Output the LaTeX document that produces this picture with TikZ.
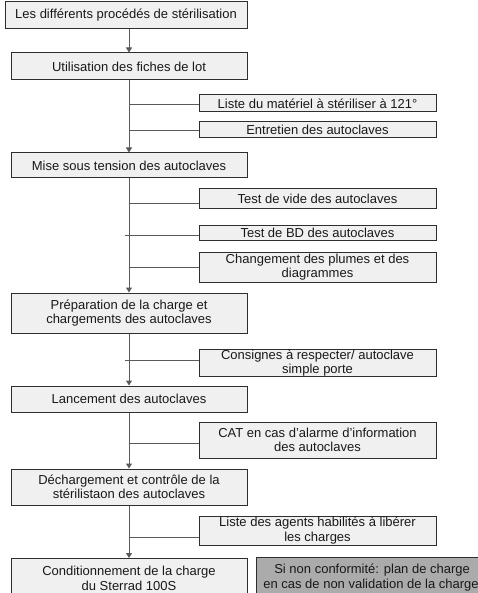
\documentclass[tikz,border=0pt]{standalone}
\usepackage{fontspec}
\setmainfont{Liberation Sans}
\usetikzlibrary{arrows.meta}
\definecolor{boxfill}{HTML}{F0F0F0}
\definecolor{notefill}{HTML}{ABABAB}
\definecolor{edge}{HTML}{2E2E2E}
\definecolor{wire}{HTML}{5A5A5A}
\begin{document}
\begin{tikzpicture}[x=1pt,y=-1pt,
  font=\fontsize{13}{14.5}\selectfont,
  stepbox/.style={draw=edge,fill=boxfill,line width=1pt,inner sep=0pt,
    minimum width=236pt,align=center,text=black!90},
  sidebox/.style={draw=edge,fill=boxfill,line width=1pt,inner sep=0pt,
    minimum width=237pt,align=center,text=black!90},
  notebox/.style={draw=edge,fill=notefill,line width=1pt,inner xsep=2pt,inner ysep=0pt,
    minimum width=229pt,align=left,text=black!90},
  flow/.style={draw=wire,line width=1pt,-{Triangle[width=6pt,length=5pt]}},
  branch/.style={draw=wire,line width=1pt}]
\useasboundingbox (0,0) rectangle (478,593);
\clip (0,0) rectangle (478,593);
\fill[white] (0,0) rectangle (478,593);

% main steps
\node[stepbox,minimum width=242pt,minimum height=27pt] (top) at (126,15.5)
  {Les différents procédés de stérilisation};
\node[stepbox,minimum height=27pt] (util) at (129,66.5) {Utilisation des fiches de lot};
\node[stepbox,minimum height=25pt] (mise) at (129,165.5) {Mise sous tension des autoclaves};
\node[stepbox,minimum height=40pt] (prep) at (129,313)
  {Préparation de la charge et\\chargements des autoclaves};
\node[stepbox,minimum height=26pt] (lanc) at (129,399) {Lancement des autoclaves};
\node[stepbox,minimum height=36pt] (dech) at (129,487)
  {Déchargement et contrôle de la\\stérilistaon des autoclaves};
\node[stepbox,minimum height=40pt] (cond) at (129,578.5)
  {Conditionnement de la charge\\du Sterrad 100S};

% side documents
\node[sidebox,minimum height=17pt] (liste) at (317.5,103.5) {Liste du matériel à stériliser à 121°};
\node[sidebox,minimum height=16pt] (entr) at (317.5,129.5) {Entretien des autoclaves};
\node[sidebox,minimum height=20pt] (vide) at (317.5,199) {Test de vide des autoclaves};
\node[sidebox,minimum height=15pt] (bd) at (317.5,233) {Test de BD des autoclaves};
\node[sidebox,minimum height=30pt] (chg) at (317.5,267)
  {Changement des plumes et des\\diagrammes};
\node[sidebox,minimum height=26pt] (cons) at (317.5,363)
  {Consignes à respecter/ autoclave\\simple porte};
\node[sidebox,minimum height=36pt] (cat) at (317.5,440)
  {CAT en cas d'alarme d'information\\des autoclaves};
\node[sidebox,minimum height=29pt] (agents) at (317.5,530.5)
  {Liste des agents habilités à libérer\\les charges};
\node[notebox,minimum height=41pt,anchor=west] (nc) at (256,577.5)
  {\hspace*{11pt}Si non conformité: plan de charge\\en cas de non validation de la charge};

% trunk
\draw[flow] (util.north |- top.south) -- (util.north);
\draw[flow] (util.south) -- (mise.north);
\draw[flow] (mise.south) -- (prep.north);
\draw[flow] (prep.south) -- (lanc.north);
\draw[flow] (lanc.south) -- (dech.north);
\draw[flow] (dech.south) -- (cond.north);

% branches to the side documents
\draw[branch] (util.south |- {(0,105)}) -- (liste.west |- {(0,105)});
\draw[branch] (util.south |- {(0,131)}) -- (entr.west |- {(0,131)});
\draw[branch] (mise.south |- {(0,204)}) -- (vide.west |- {(0,204)});
\draw[branch] ([xshift=-4pt]mise.south |- {(0,236)}) -- (bd.west |- {(0,236)});
\draw[branch] (mise.south |- {(0,267)}) -- (chg.west |- {(0,267)});
\draw[branch] ([xshift=-4pt]prep.south |- {(0,360)}) -- (cons.west |- {(0,360)});
\draw[branch] (lanc.south |- {(0,443)}) -- (cat.west |- {(0,443)});
\draw[branch] (dech.south |- {(0,537)}) -- (agents.west |- {(0,537)});
\end{tikzpicture}
\end{document}
